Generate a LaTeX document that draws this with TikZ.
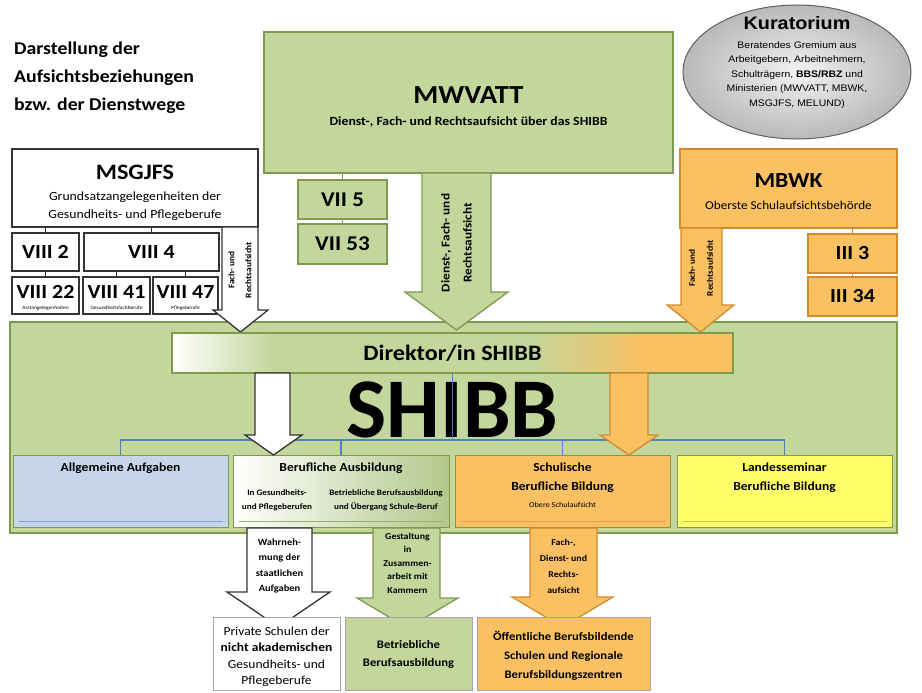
\documentclass[tikz,border=0pt]{standalone}
\usepackage{fontspec}
\setmainfont{Carlito}[FakeStretch=1.1]
\newfontfamily\plainfont{Carlito}
\newfontfamily\arialfont{Liberation Sans}[FakeStretch=1.1]
\usetikzlibrary{shapes.geometric}
\definecolor{grn}{HTML}{C3D69B}
\definecolor{grnD}{HTML}{B2C88A}
\definecolor{grnd}{HTML}{7E9A4C}
\definecolor{org}{HTML}{FAC061}
\definecolor{orgd}{HTML}{D38A2C}
\definecolor{blu}{HTML}{C6D5EC}
\definecolor{blud}{HTML}{4F81BD}
\definecolor{yel}{HTML}{FFFF6A}
\definecolor{yeld}{HTML}{C8C850}
\definecolor{gry}{HTML}{333333}
\newcommand\fs[2]{\fontsize{#1}{#2}\selectfont}
\pgfdeclarehorizontalshading{dirshade}{100bp}{color(0bp)=(white); color(25bp)=(white); color(34bp)=(grn); color(57bp)=(grn); color(67bp)=(org); color(75bp)=(org); color(100bp)=(org)}
\newcommand\blockarrow[8]{\draw[#1] (#2,#4) -- (#3,#4) -- (#3,#5) -- (#7,#5) -- ({(#6+#7)/2},#8) -- (#6,#5) -- (#2,#5) -- cycle;}
\tikzset{
  box/.style={draw, rectangle, inner sep=0pt, line width=1.3pt},
  gbox/.style={box, fill=grn, draw=grnd},
  obox/.style={box, fill=org, draw=orgd},
  wbox/.style={box, fill=white, draw=gry},
  lbl/.style={inner sep=0pt, align=center, text=black},
  conn/.style={draw=gry, line width=1pt},
  gconn/.style={draw=grnd, line width=1pt},
  oconn/.style={draw=orgd, line width=1pt},
  bconn/.style={draw=blud, line width=1.6pt},
  garrow/.style={fill=grn, draw=grnd, line width=1.3pt, line join=miter},
  oarrow/.style={fill=org, draw=orgd, line width=1.3pt, line join=miter},
  warrow/.style={fill=white, draw=gry, line width=1.3pt, line join=miter},
}
\begin{document}
\begin{tikzpicture}[x=1pt,y=-1pt]
\fill[white] (0,0) rectangle (922,693);
\useasboundingbox (0,0) rectangle (922,693);

% title
\node[lbl, anchor=west, align=left, font=\fs{18}{28}\bfseries] (title) at (14,78) {Darstellung der\\Aufsichtsbeziehungen\\bzw. der Dienstwege};

% SHIBB frame
\node[gbox, minimum width=887pt, minimum height=211pt] (shibb) at (453.5,427.5) {};

% MWVATT
\node[gbox, minimum width=409pt, minimum height=141pt] (mwvatt) at (468.5,102.5) {};
\node[lbl, font=\fs{26}{30}\bfseries] (mwvattT) at (468.5,95) {MWVATT};
\node[lbl, font=\fs{12.5}{15}\bfseries] (mwvattS) at (468.5,122) {Dienst-, Fach- und Rechtsaufsicht über das SHIBB};
\node[gbox, minimum width=89pt, minimum height=39pt, font=\fs{21}{24}\bfseries] (vii5) at (342.5,199.5) {VII 5};
\node[gbox, minimum width=89pt, minimum height=40pt, font=\fs{21}{24}\bfseries] (vii53) at (342.5,244) {VII 53};
\draw[gconn] (vii5.north |- mwvatt.south) -- (vii5.north);
\draw[gconn] (vii5.south) -- (vii53.north);

% Kuratorium
\node[ellipse, minimum width=228pt, minimum height=134pt, draw=gray!75!black, line width=1pt, inner color=gray!10, outer color=gray!55] (kur) at (797,72) {};
\node[lbl, font=\arialfont\bfseries\fs{18}{20}] (kurT) at (797,23) {Kuratorium};
\node[lbl, font=\arialfont\fs{9.5}{14.5}] (kurS) at (797,75) {Beratendes Gremium aus\\Arbeitgebern, Arbeitnehmern,\\Schulträgern, \textbf{BBS/RBZ} und\\Ministerien (MWVATT, MBWK,\\MSGJFS, MELUND)};

% MSGJFS
\node[wbox, minimum width=246pt, minimum height=78pt] (msgjfs) at (135,188) {};
\node[lbl, font=\fs{22}{24}\bfseries] (msgjfsT) at (135,172) {MSGJFS};
\node[lbl, font=\fs{12.5}{18}] (msgjfsS) at (135,206) {Grundsatzangelegenheiten der\\Gesundheits- und Pflegeberufe};
\node[wbox, minimum width=67pt, minimum height=38pt, font=\fs{20}{22}\bfseries] (viii2) at (45.5,252) {VIII 2};
\node[wbox, minimum width=135pt, minimum height=38pt, font=\fs{20}{22}\bfseries] (viii4) at (151.5,252) {VIII 4};
\node[wbox, minimum width=67pt, minimum height=37pt] (viii22) at (45.5,295.5) {};
\node[wbox, minimum width=67pt, minimum height=37pt] (viii41) at (116.5,295.5) {};
\node[wbox, minimum width=65pt, minimum height=37pt] (viii47) at (185.5,295.5) {};
\node[lbl, font=\fs{20}{22}\bfseries] (viii22T) at (45.5,292) {VIII 22};
\node[lbl, font=\fs{20}{22}\bfseries] (viii41T) at (116.5,292) {VIII 41};
\node[lbl, font=\fs{20}{22}\bfseries] (viii47T) at (185.5,292) {VIII 47};
\node[lbl, font=\fs{5}{6}] (viii22S) at (45.5,308) {Arztangelegenheiten};
\node[lbl, font=\fs{5}{6}] (viii41S) at (116.5,308) {Gesundheitsfachberufe};
\node[lbl, font=\fs{5}{6}] (viii47S) at (185.5,308) {Pflegeberufe};
\draw[conn] (viii2.north |- msgjfs.south) -- (viii2.north);
\draw[conn] (viii4.north |- msgjfs.south) -- (viii4.north);
\draw[conn] (viii2.south) -- (viii22.north);
\draw[conn] (viii41.north |- viii4.south) -- (viii41.north);
\draw[conn] (viii47.north |- viii4.south) -- (viii47.north);

% MBWK
\node[obox, minimum width=217pt, minimum height=79pt] (mbwk) at (788.5,188.5) {};
\node[lbl, font=\fs{21.5}{24}\bfseries] (mbwkT) at (788.5,181) {MBWK};
\node[lbl, font=\fs{12}{14}] (mbwkS) at (788.5,205) {Oberste Schulaufsichtsbehörde};
\node[obox, minimum width=89pt, minimum height=39pt, font=\fs{20}{22}\bfseries] (iii3) at (852.5,253.5) {III 3};
\node[obox, minimum width=89pt, minimum height=39pt, font=\fs{20}{22}\bfseries] (iii34) at (852.5,296.5) {III 34};
\draw[oconn] (iii3.north |- mbwk.south) -- (iii3.north);
\draw[oconn] (iii3.south) -- (iii34.north);

% arrows from the ministries
\blockarrow{garrow}{422}{491}{173}{292}{405}{508}{330}
\node[lbl, rotate=90, font=\fs{12}{22}\bfseries] (mwvattA) at (456.5,243) {Dienst-, Fach- und\\Rechtsaufsicht};
\blockarrow{warrow}{222}{258}{227}{310}{213}{268}{332}
\node[lbl, rotate=90, font=\fs{8.5}{17}\bfseries] (msgjfsA) at (240,270) {Fach- und\\Rechtsaufsicht};
\blockarrow{oarrow}{681}{722}{228}{305}{667}{734}{332}
\node[lbl, rotate=90, font=\fs{8.5}{18}\bfseries] (mbwkA) at (701,268) {Fach- und\\Rechtsaufsicht};

% Direktor
\node[box, draw=grnd, shading=dirshade, minimum width=561pt, minimum height=40pt, font=\fs{22}{24}\bfseries] (dir) at (452.5,353) {Direktor/in SHIBB};

% row of departments
\node[box, line width=1pt, fill=blu, draw=grnd, minimum width=215pt, minimum height=72pt] (allg) at (120.5,491) {};
\node[box, line width=1pt, left color=white, right color=grnD, draw=grnd, minimum width=216pt, minimum height=72pt] (beruf) at (341,491) {};
\node[box, line width=1pt, fill=org, draw=grnd, minimum width=215pt, minimum height=72pt] (schul) at (562.5,491) {};
\node[box, line width=1pt, fill=yel, draw=grnd, minimum width=215pt, minimum height=72pt] (landes) at (784.5,491) {};
\draw[blud!70, line width=1pt] ([xshift=6pt,yshift=6pt]allg.south west) -- ([xshift=-6pt,yshift=6pt]allg.south east);
\draw[grnd!80, line width=1pt] ([xshift=6pt,yshift=6pt]beruf.south west) -- ([xshift=-6pt,yshift=6pt]beruf.south east);
\draw[orgd!80, line width=1pt] ([xshift=6pt,yshift=6pt]schul.south west) -- ([xshift=-6pt,yshift=6pt]schul.south east);
\draw[yeld, line width=1pt] ([xshift=6pt,yshift=6pt]landes.south west) -- ([xshift=-6pt,yshift=6pt]landes.south east);

\node[lbl, font=\fs{12.3}{14}\bfseries] (allgT) at (120.5,468) {Allgemeine Aufgaben};
\node[lbl, font=\fs{12.3}{14}\bfseries] (berufT) at (341,468) {Berufliche Ausbildung};
\node[lbl, font=\fs{8.3}{14}\bfseries] (berufA) at (277,500) {In Gesundheits-\\und Pflegeberufen};
\node[lbl, font=\fs{8.3}{14}\bfseries] (berufB) at (386,500) {Betriebliche Berufsausbildung\\und Übergang Schule-Beruf};
\node[lbl, font=\fs{12.3}{19}\bfseries] (schulT) at (562.5,477.5) {Schulische\\Berufliche Bildung};
\node[lbl, font=\fs{7.5}{9}] (schulS) at (562.5,505) {Obere Schulaufsicht};
\node[lbl, font=\fs{12.3}{19}\bfseries] (landesT) at (784.5,477.5) {Landesseminar\\Berufliche Bildung};

% blue connectors
\coordinate (hbar) at (0,440);
\node[lbl, font=\plainfont\fs{85}{90}\bfseries] (shibbT) at (452.5,410) {SHIBB};
\draw[bconn] (allg.north) -- (allg.north |- hbar) -- (landes.north |- hbar) -- (landes.north);
\draw[bconn] (beruf.north) -- (beruf.north |- hbar);
\draw[bconn] (schul.north) -- (schul.north |- hbar);
\draw[bconn] (dir.south) -- (dir.south |- hbar);

% arrows inside SHIBB
\blockarrow{warrow}{255}{290}{373}{435}{245}{302}{455}
\blockarrow{oarrow}{610}{648}{373}{435}{600}{658}{455}

% lower arrows
\blockarrow{warrow}{247}{312}{528}{592}{227}{330}{627}
\node[lbl, font=\fs{9.5}{15.5}\bfseries] (lowW) at (279.5,566) {Wahrneh-\\mung der\\staatlichen\\Aufgaben};
\blockarrow{garrow}{373}{440}{528}{598}{357}{458}{628}
\node[lbl, font=\fs{9}{13.5}\bfseries] (lowG) at (407.5,563) {Gestaltung\\in\\Zusammen-\\arbeit mit\\Kammern};
\blockarrow{oarrow}{530}{597}{528}{597}{512}{613}{627}
\node[lbl, font=\fs{9}{16}\bfseries] (lowO) at (563.5,566) {Fach-,\\Dienst- und\\Rechts-\\aufsicht};

% bottom boxes
\node[box, line width=1pt, fill=white, draw=gray!70, minimum width=127pt, minimum height=73pt] (priv) at (276.5,653.5) {};
\node[lbl, font=\fs{12.3}{16.5}] (privT) at (276.5,657) {Private Schulen der\\\textbf{nicht akademischen}\\Gesundheits- und\\Pflegeberufe};
\node[box, line width=1pt, fill=grn, draw=gray!70, minimum width=127pt, minimum height=73pt] (betr) at (408.5,653.5) {};
\node[lbl, font=\fs{11.5}{18}\bfseries] (betrT) at (408.5,654) {Betriebliche\\Berufsausbildung};
\node[box, line width=1pt, fill=org, draw=gray!70, minimum width=173pt, minimum height=73pt] (oeff) at (563.5,653.5) {};
\node[lbl, font=\fs{11.5}{19}\bfseries] (oeffT) at (563.5,656) {Öffentliche Berufsbildende\\Schulen und Regionale\\Berufsbildungszentren};
\end{tikzpicture}
\end{document}
